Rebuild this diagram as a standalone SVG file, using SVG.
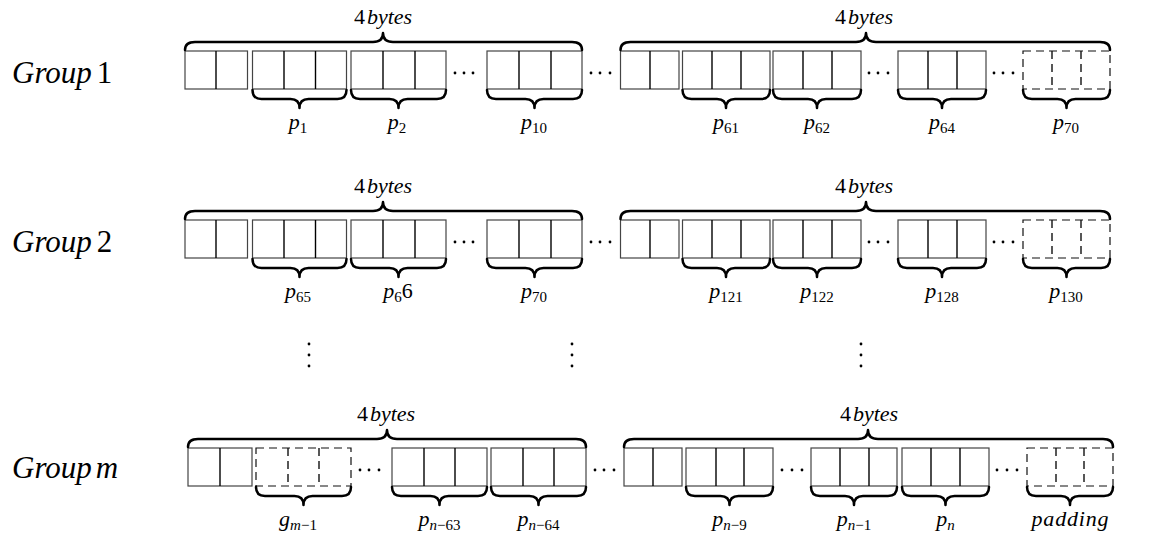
<svg xmlns="http://www.w3.org/2000/svg" width="1161" height="538" viewBox="0 0 1161 538">
<style>
.box{fill:none;stroke:#444;stroke-width:1.2}
.dv{stroke:#000;stroke-width:1.4}
.dash{stroke:#111;stroke-dasharray:8 5}
.br{fill:none;stroke:#000;stroke-width:2.5;stroke-linecap:round;stroke-linejoin:round}
.t{font-family:"Liberation Serif","Times New Roman",serif;font-size:22px;fill:#000}
.it{font-style:italic}
.sub{font-size:15px}
.grp{font-size:31px}
.dot{fill:#000}
</style>
<rect width="1161" height="538" fill="#fff"/>

<!-- Group labels -->
<g id="label-group1"><text class="t grp" x="12" y="83"><tspan class="it">Group</tspan><tspan dx="5">1</tspan></text></g>
<g id="label-group2"><text class="t grp" x="12" y="252"><tspan class="it">Group</tspan><tspan dx="5">2</tspan></text></g>
<g id="label-groupm"><text class="t grp" x="12" y="478"><tspan class="it">Group</tspan><tspan class="it" dx="4">m</tspan></text></g>

<!-- Row 1 -->
<g id="row1">
 <g id="r1-pairA"><rect class="box" x="185" y="51" width="62.5" height="38"/><line class="dv" x1="216" y1="51" x2="216" y2="89"/></g>
 <g id="r1-p1"><rect class="box" x="252.5" y="51" width="94" height="38"/><line class="dv" x1="284" y1="51" x2="284" y2="89"/><line class="dv" x1="315.5" y1="51" x2="315.5" y2="89"/></g>
 <g id="r1-p2"><rect class="box" x="351" y="51" width="95" height="38"/><line class="dv" x1="383" y1="51" x2="383" y2="89"/><line class="dv" x1="415" y1="51" x2="415" y2="89"/></g>
 <g id="r1-p10"><rect class="box" x="487" y="51" width="95" height="38"/><line class="dv" x1="519" y1="51" x2="519" y2="89"/><line class="dv" x1="551" y1="51" x2="551" y2="89"/></g>
 <g id="r1-pairB"><rect class="box" x="620.5" y="51" width="58.5" height="38"/><line class="dv" x1="650" y1="51" x2="650" y2="89"/></g>
 <g id="r1-p61"><rect class="box" x="682.5" y="51" width="87.5" height="38"/><line class="dv" x1="712" y1="51" x2="712" y2="89"/><line class="dv" x1="741" y1="51" x2="741" y2="89"/></g>
 <g id="r1-p62"><rect class="box" x="773" y="51" width="88" height="38"/><line class="dv" x1="803" y1="51" x2="803" y2="89"/><line class="dv" x1="832" y1="51" x2="832" y2="89"/></g>
 <g id="r1-p64"><rect class="box" x="898" y="51" width="88" height="38"/><line class="dv" x1="928" y1="51" x2="928" y2="89"/><line class="dv" x1="957" y1="51" x2="957" y2="89"/></g>
 <g id="r1-p70"><rect class="box dash" x="1023" y="51" width="87" height="38"/><line class="dv dash" x1="1052" y1="51" x2="1052" y2="89"/><line class="dv dash" x1="1081" y1="51" x2="1081" y2="89"/></g>
 <g id="r1-dots"><circle class="dot" cx="455" cy="73" r="1.4"/><circle class="dot" cx="464" cy="73" r="1.4"/><circle class="dot" cx="473" cy="73" r="1.4"/>
 <circle class="dot" cx="591" cy="73" r="1.4"/><circle class="dot" cx="600" cy="73" r="1.4"/><circle class="dot" cx="610" cy="73" r="1.4"/>
 <circle class="dot" cx="869" cy="73" r="1.4"/><circle class="dot" cx="878" cy="73" r="1.4"/><circle class="dot" cx="888" cy="73" r="1.4"/>
 <circle class="dot" cx="994" cy="73" r="1.4"/><circle class="dot" cx="1003" cy="73" r="1.4"/><circle class="dot" cx="1013" cy="73" r="1.4"/></g>
 <text class="t" x="383" y="24" text-anchor="middle">4<tspan class="it" dx="2">bytes</tspan></text>
 <text class="t" x="864" y="24" text-anchor="middle">4<tspan class="it" dx="2">bytes</tspan></text>
 <text class="t" x="298" y="129" text-anchor="middle"><tspan class="it">p</tspan><tspan class="sub" dy="4">1</tspan></text>
 <text class="t" x="397" y="129" text-anchor="middle"><tspan class="it">p</tspan><tspan class="sub" dy="4">2</tspan></text>
 <text class="t" x="534" y="129" text-anchor="middle"><tspan class="it">p</tspan><tspan class="sub" dy="4">10</tspan></text>
 <text class="t" x="726" y="129" text-anchor="middle"><tspan class="it">p</tspan><tspan class="sub" dy="4">61</tspan></text>
 <text class="t" x="817" y="129" text-anchor="middle"><tspan class="it">p</tspan><tspan class="sub" dy="4">62</tspan></text>
 <text class="t" x="942" y="129" text-anchor="middle"><tspan class="it">p</tspan><tspan class="sub" dy="4">64</tspan></text>
 <text class="t" x="1066" y="129" text-anchor="middle"><tspan class="it">p</tspan><tspan class="sub" dy="4">70</tspan></text>
</g>

<!-- Row 2 -->
<g id="row2">
 <g id="r2-pairA"><rect class="box" x="185" y="220" width="62.5" height="38"/><line class="dv" x1="216" y1="220" x2="216" y2="258"/></g>
 <g id="r2-p65"><rect class="box" x="252.5" y="220" width="94" height="38"/><line class="dv" x1="284" y1="220" x2="284" y2="258"/><line class="dv" x1="315.5" y1="220" x2="315.5" y2="258"/></g>
 <g id="r2-p66"><rect class="box" x="351" y="220" width="95" height="38"/><line class="dv" x1="383" y1="220" x2="383" y2="258"/><line class="dv" x1="415" y1="220" x2="415" y2="258"/></g>
 <g id="r2-p70"><rect class="box" x="487" y="220" width="95" height="38"/><line class="dv" x1="519" y1="220" x2="519" y2="258"/><line class="dv" x1="551" y1="220" x2="551" y2="258"/></g>
 <g id="r2-pairB"><rect class="box" x="620.5" y="220" width="58.5" height="38"/><line class="dv" x1="650" y1="220" x2="650" y2="258"/></g>
 <g id="r2-p121"><rect class="box" x="682.5" y="220" width="87.5" height="38"/><line class="dv" x1="712" y1="220" x2="712" y2="258"/><line class="dv" x1="741" y1="220" x2="741" y2="258"/></g>
 <g id="r2-p122"><rect class="box" x="773" y="220" width="88" height="38"/><line class="dv" x1="803" y1="220" x2="803" y2="258"/><line class="dv" x1="832" y1="220" x2="832" y2="258"/></g>
 <g id="r2-p128"><rect class="box" x="898" y="220" width="88" height="38"/><line class="dv" x1="928" y1="220" x2="928" y2="258"/><line class="dv" x1="957" y1="220" x2="957" y2="258"/></g>
 <g id="r2-p130"><rect class="box dash" x="1023" y="220" width="87" height="38"/><line class="dv dash" x1="1052" y1="220" x2="1052" y2="258"/><line class="dv dash" x1="1081" y1="220" x2="1081" y2="258"/></g>
 <g id="r2-dots"><circle class="dot" cx="455" cy="242" r="1.4"/><circle class="dot" cx="464" cy="242" r="1.4"/><circle class="dot" cx="473" cy="242" r="1.4"/>
 <circle class="dot" cx="591" cy="242" r="1.4"/><circle class="dot" cx="600" cy="242" r="1.4"/><circle class="dot" cx="610" cy="242" r="1.4"/>
 <circle class="dot" cx="869" cy="242" r="1.4"/><circle class="dot" cx="878" cy="242" r="1.4"/><circle class="dot" cx="888" cy="242" r="1.4"/>
 <circle class="dot" cx="994" cy="242" r="1.4"/><circle class="dot" cx="1003" cy="242" r="1.4"/><circle class="dot" cx="1013" cy="242" r="1.4"/></g>
 <text class="t" x="383" y="193" text-anchor="middle">4<tspan class="it" dx="2">bytes</tspan></text>
 <text class="t" x="864" y="193" text-anchor="middle">4<tspan class="it" dx="2">bytes</tspan></text>
 <text class="t" x="298" y="298" text-anchor="middle"><tspan class="it">p</tspan><tspan class="sub" dy="4">65</tspan></text>
 <text class="t" x="398" y="298" text-anchor="middle"><tspan class="it">p</tspan><tspan class="sub" dy="4">6</tspan><tspan dy="-4">6</tspan></text>
 <text class="t" x="534" y="298" text-anchor="middle"><tspan class="it">p</tspan><tspan class="sub" dy="4">70</tspan></text>
 <text class="t" x="726" y="298" text-anchor="middle"><tspan class="it">p</tspan><tspan class="sub" dy="4">121</tspan></text>
 <text class="t" x="817" y="298" text-anchor="middle"><tspan class="it">p</tspan><tspan class="sub" dy="4">122</tspan></text>
 <text class="t" x="942" y="298" text-anchor="middle"><tspan class="it">p</tspan><tspan class="sub" dy="4">128</tspan></text>
 <text class="t" x="1066" y="298" text-anchor="middle"><tspan class="it">p</tspan><tspan class="sub" dy="4">130</tspan></text>
</g>

<!-- Vertical ellipses -->
<g id="vdots">
 <circle class="dot" cx="309" cy="344" r="1.4"/><circle class="dot" cx="309" cy="355" r="1.4"/><circle class="dot" cx="309" cy="366" r="1.4"/>
 <circle class="dot" cx="572" cy="344" r="1.4"/><circle class="dot" cx="572" cy="355" r="1.4"/><circle class="dot" cx="572" cy="366" r="1.4"/>
 <circle class="dot" cx="861" cy="344" r="1.4"/><circle class="dot" cx="861" cy="355" r="1.4"/><circle class="dot" cx="861" cy="366" r="1.4"/>
</g>

<!-- Row m -->
<g id="rowm">
 <g id="rm-pairA"><rect class="box" x="188" y="448" width="64" height="38"/><line class="dv" x1="220" y1="448" x2="220" y2="486"/></g>
 <g id="rm-gm1"><rect class="box dash" x="256" y="448" width="95" height="38"/><line class="dv dash" x1="288" y1="448" x2="288" y2="486"/><line class="dv dash" x1="319" y1="448" x2="319" y2="486"/></g>
 <g id="rm-pn63"><rect class="box" x="392" y="448" width="95" height="38"/><line class="dv" x1="424" y1="448" x2="424" y2="486"/><line class="dv" x1="455" y1="448" x2="455" y2="486"/></g>
 <g id="rm-pn64"><rect class="box" x="491" y="448" width="95" height="38"/><line class="dv" x1="523" y1="448" x2="523" y2="486"/><line class="dv" x1="554" y1="448" x2="554" y2="486"/></g>
 <g id="rm-pairB"><rect class="box" x="624" y="448" width="58" height="38"/><line class="dv" x1="653" y1="448" x2="653" y2="486"/></g>
 <g id="rm-pn9"><rect class="box" x="686" y="448" width="87" height="38"/><line class="dv" x1="716" y1="448" x2="716" y2="486"/><line class="dv" x1="744" y1="448" x2="744" y2="486"/></g>
 <g id="rm-pn1"><rect class="box" x="811" y="448" width="86" height="38"/><line class="dv" x1="840" y1="448" x2="840" y2="486"/><line class="dv" x1="869" y1="448" x2="869" y2="486"/></g>
 <g id="rm-pn"><rect class="box" x="902" y="448" width="87" height="38"/><line class="dv" x1="931" y1="448" x2="931" y2="486"/><line class="dv" x1="960" y1="448" x2="960" y2="486"/></g>
 <g id="rm-padding"><rect class="box dash" x="1027" y="448" width="86" height="38"/><line class="dv dash" x1="1056" y1="448" x2="1056" y2="486"/><line class="dv dash" x1="1084" y1="448" x2="1084" y2="486"/></g>
 <g id="rm-dots"><circle class="dot" cx="360" cy="470" r="1.4"/><circle class="dot" cx="369" cy="470" r="1.4"/><circle class="dot" cx="379" cy="470" r="1.4"/>
 <circle class="dot" cx="595" cy="470" r="1.4"/><circle class="dot" cx="604" cy="470" r="1.4"/><circle class="dot" cx="614" cy="470" r="1.4"/>
 <circle class="dot" cx="782" cy="470" r="1.4"/><circle class="dot" cx="792" cy="470" r="1.4"/><circle class="dot" cx="802" cy="470" r="1.4"/>
 <circle class="dot" cx="997" cy="470" r="1.4"/><circle class="dot" cx="1007" cy="470" r="1.4"/><circle class="dot" cx="1017" cy="470" r="1.4"/></g>
 <text class="t" x="386" y="421" text-anchor="middle">4<tspan class="it" dx="2">bytes</tspan></text>
 <text class="t" x="869" y="421" text-anchor="middle">4<tspan class="it" dx="2">bytes</tspan></text>
 <text class="t" x="298" y="526" text-anchor="middle"><tspan class="it">g</tspan><tspan class="sub it" dy="4">m</tspan><tspan class="sub">−1</tspan></text>
 <text class="t" x="439.5" y="526" text-anchor="middle"><tspan class="it">p</tspan><tspan class="sub it" dy="4">n</tspan><tspan class="sub">−63</tspan></text>
 <text class="t" x="538.5" y="526" text-anchor="middle"><tspan class="it">p</tspan><tspan class="sub it" dy="4">n</tspan><tspan class="sub">−64</tspan></text>
 <text class="t" x="729.5" y="526" text-anchor="middle"><tspan class="it">p</tspan><tspan class="sub it" dy="4">n</tspan><tspan class="sub">−9</tspan></text>
 <text class="t" x="854" y="526" text-anchor="middle"><tspan class="it">p</tspan><tspan class="sub it" dy="4">n</tspan><tspan class="sub">−1</tspan></text>
 <text class="t" x="945.5" y="526" text-anchor="middle"><tspan class="it">p</tspan><tspan class="sub it" dy="4">n</tspan></text>
 <text class="t it" x="1070" y="526" text-anchor="middle" textLength="77" lengthAdjust="spacing">padding</text>
</g>

<!-- Braces -->
<g id="braces">
 <path class="br" d="M185,50 Q185,42 195,42 L373,42 Q383,42 383,33 Q383,42 393,42 L572,42 Q582,42 582,50"/>
 <path class="br" d="M620.5,50 Q620.5,42 630.5,42 L856,42 Q866,42 866,33 Q866,42 876,42 L1100,42 Q1110,42 1110,50"/>
 <path class="br" d="M185,219 Q185,211 195,211 L373,211 Q383,211 383,202 Q383,211 393,211 L572,211 Q582,211 582,219"/>
 <path class="br" d="M620.5,219 Q620.5,211 630.5,211 L856,211 Q866,211 866,202 Q866,211 876,211 L1100,211 Q1110,211 1110,219"/>
 <path class="br" d="M188,447 Q188,439 198,439 L377,439 Q387,439 387,430 Q387,439 397,439 L576,439 Q586,439 586,447"/>
 <path class="br" d="M624,447 Q624,439 634,439 L858,439 Q868,439 868,430 Q868,439 878,439 L1103,439 Q1113,439 1113,447"/>

 <path class="br" d="M252.5,90 Q252.5,99 261.5,99 L290.5,99 Q299.5,99 299.5,108 Q299.5,99 308.5,99 L337.5,99 Q346.5,99 346.5,90"/>
 <path class="br" d="M351,90 Q351,99 360,99 L389.5,99 Q398.5,99 398.5,108 Q398.5,99 407.5,99 L437,99 Q446,99 446,90"/>
 <path class="br" d="M487,90 Q487,99 496,99 L525.5,99 Q534.5,99 534.5,108 Q534.5,99 543.5,99 L573,99 Q582,99 582,90"/>
 <path class="br" d="M682.5,90 Q682.5,99 691.5,99 L717,99 Q726,99 726,108 Q726,99 735,99 L761,99 Q770,99 770,90"/>
 <path class="br" d="M773,90 Q773,99 782,99 L808,99 Q817,99 817,108 Q817,99 826,99 L852,99 Q861,99 861,90"/>
 <path class="br" d="M898,90 Q898,99 907,99 L933,99 Q942,99 942,108 Q942,99 951,99 L977,99 Q986,99 986,90"/>
 <path class="br" d="M1023,90 Q1023,99 1032,99 L1057.5,99 Q1066.5,99 1066.5,108 Q1066.5,99 1075.5,99 L1101,99 Q1110,99 1110,90"/>

 <path class="br" d="M252.5,259 Q252.5,268 261.5,268 L290.5,268 Q299.5,268 299.5,277 Q299.5,268 308.5,268 L337.5,268 Q346.5,268 346.5,259"/>
 <path class="br" d="M351,259 Q351,268 360,268 L389.5,268 Q398.5,268 398.5,277 Q398.5,268 407.5,268 L437,268 Q446,268 446,259"/>
 <path class="br" d="M487,259 Q487,268 496,268 L525.5,268 Q534.5,268 534.5,277 Q534.5,268 543.5,268 L573,268 Q582,268 582,259"/>
 <path class="br" d="M682.5,259 Q682.5,268 691.5,268 L717,268 Q726,268 726,277 Q726,268 735,268 L761,268 Q770,268 770,259"/>
 <path class="br" d="M773,259 Q773,268 782,268 L808,268 Q817,268 817,277 Q817,268 826,268 L852,268 Q861,268 861,259"/>
 <path class="br" d="M898,259 Q898,268 907,268 L933,268 Q942,268 942,277 Q942,268 951,268 L977,268 Q986,268 986,259"/>
 <path class="br" d="M1023,259 Q1023,268 1032,268 L1057.5,268 Q1066.5,268 1066.5,277 Q1066.5,268 1075.5,268 L1101,268 Q1110,268 1110,259"/>

 <path class="br" d="M256,487 Q256,496 265,496 L294.5,496 Q303.5,496 303.5,505 Q303.5,496 312.5,496 L342,496 Q351,496 351,487"/>
 <path class="br" d="M392,487 Q392,496 401,496 L430.5,496 Q439.5,496 439.5,505 Q439.5,496 448.5,496 L478,496 Q487,496 487,487"/>
 <path class="br" d="M491,487 Q491,496 500,496 L529.5,496 Q538.5,496 538.5,505 Q538.5,496 547.5,496 L577,496 Q586,496 586,487"/>
 <path class="br" d="M686,487 Q686,496 695,496 L720.5,496 Q729.5,496 729.5,505 Q729.5,496 738.5,496 L764,496 Q773,496 773,487"/>
 <path class="br" d="M811,487 Q811,496 820,496 L845,496 Q854,496 854,505 Q854,496 863,496 L888,496 Q897,496 897,487"/>
 <path class="br" d="M902,487 Q902,496 911,496 L936.5,496 Q945.5,496 945.5,505 Q945.5,496 954.5,496 L980,496 Q989,496 989,487"/>
 <path class="br" d="M1027,487 Q1027,496 1036,496 L1061,496 Q1070,496 1070,505 Q1070,496 1079,496 L1104,496 Q1113,496 1113,487"/>
</g>
</svg>
